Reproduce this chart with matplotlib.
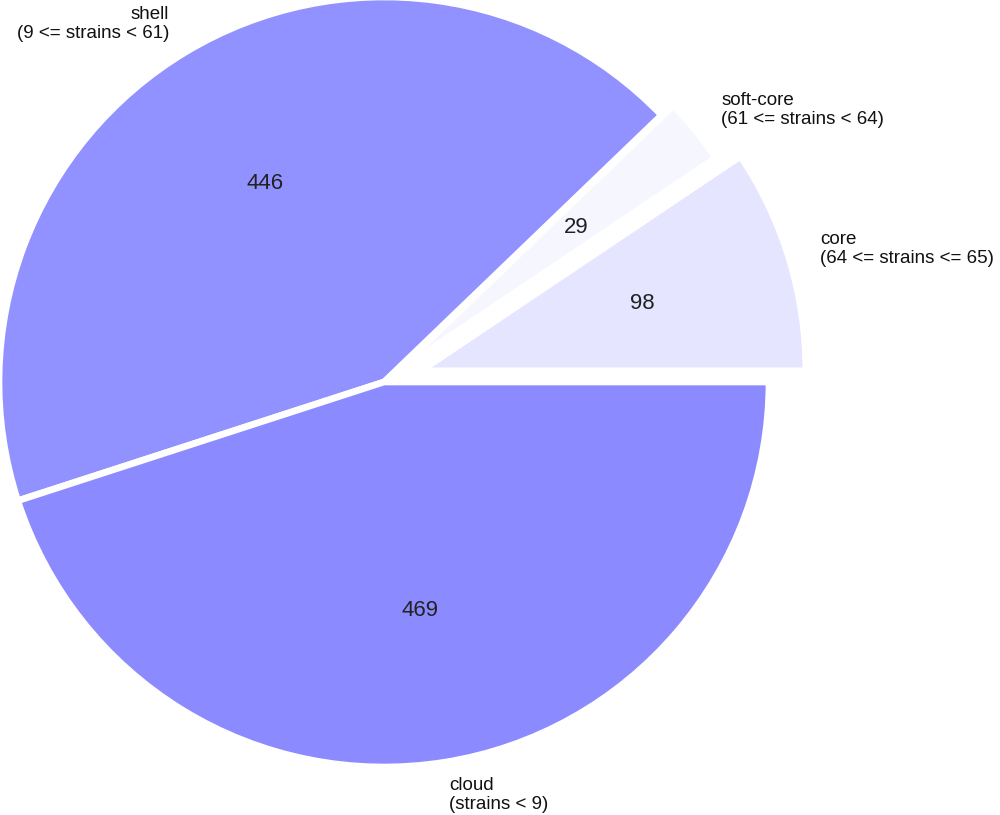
import matplotlib
matplotlib.use("Agg")
import matplotlib.pyplot as plt

# Data
categories = ["core", "soft-core", "shell", "cloud"]
ranges = ["(64 <= strains <= 65)", "(61 <= strains < 64)", "(9 <= strains < 61)", "(strains < 9)"]
counts = [98, 29, 446, 469]
colors = ["#e5e5ff", "#f6f6ff", "#9191ff", "#8b8bff"]
explode = [0.1, 0.04, 0.0, 0.0]

labels = [f"{c}\n{r}" for c, r in zip(categories, ranges)]
total = sum(counts)

plt.rcParams['font.family'] = ['Liberation Sans', 'DejaVu Sans']

W, H = 1000, 815
fig = plt.figure(figsize=(W / 100, H / 100), dpi=100)
ax = fig.add_axes([0, 0, 1, 1])

wedges, texts, autotexts = ax.pie(
    counts, labels=labels, colors=colors, explode=explode,
    startangle=0, counterclock=True, labeldistance=1.085, pctdistance=0.6,
    autopct=lambda p: f"{round(p * total / 100):d}",
    wedgeprops=dict(edgecolor="white", linewidth=4.8),
    textprops=dict(fontsize=13.5, color="#111111", linespacing=1.15),
    frame=False,
)
for t in autotexts:
    t.set_color("#222222")
    t.set_fontsize(16)

# place pie: center at pixel (384, 382) from top-left, radius 385 px
R = 385.0
cx, cy = 384.0, 382.0
ax.set_xlim(-cx / R, (W - cx) / R)
ax.set_ylim(-(H - cy) / R, cy / R)
ax.set_aspect('auto')
ax.set_axis_off()

fig.savefig("out.png", dpi=100, facecolor="white")
